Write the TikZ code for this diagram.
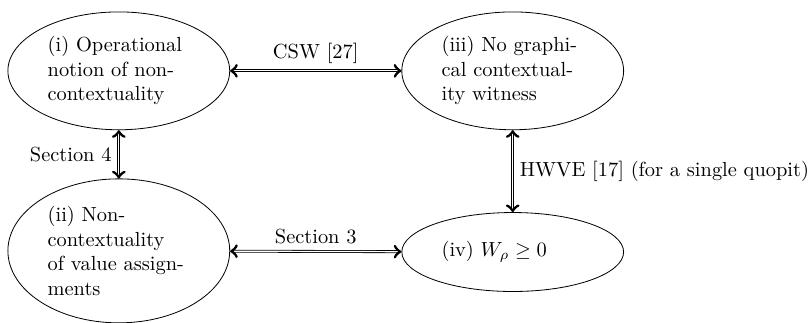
\documentclass[tikz,border=0pt]{standalone}
\usetikzlibrary{shapes.geometric}

\tikzset{
    claim/.style={draw, ellipse, minimum width=3.82cm, text width=2.45cm, align=left, inner sep=0pt},
    equiv/.style={<->, double}
}

\begin{document}
\begin{tikzpicture}
            \useasboundingbox (0, 0) rectangle (13.95, -5.56);

            \node[claim, minimum height=2.03cm] (opnc) at (2.046, -1.22) {(i) Operational\\ notion of non-\\ contextuality};
            \node[claim, minimum height=2.48cm] (vanc) at (2.046, -4.32) {(ii) Non-\\ contextuality\\ of value assign-\\ ments};
            \node[claim, minimum height=2.03cm] (gcw) at (8.83, -1.22) {(iii) No graphi-\\ cal contextual-\\ ity witness};
            \node[claim, minimum height=1.36cm] (wig) at (8.83, -4.34) {(iv) $W_\rho \geq 0$};

            \draw[equiv] (opnc) -- node[above] {CSW [27]} (gcw);
            \draw[equiv] (vanc) -- node[above] {Section 3} (wig);
            \draw[equiv] (opnc) -- node[left] {Section 4} (vanc);
            \draw[equiv] (gcw) -- node[right] {HWVE [17] (for a single quopit)} (wig);
        \end{tikzpicture}
\end{document}
